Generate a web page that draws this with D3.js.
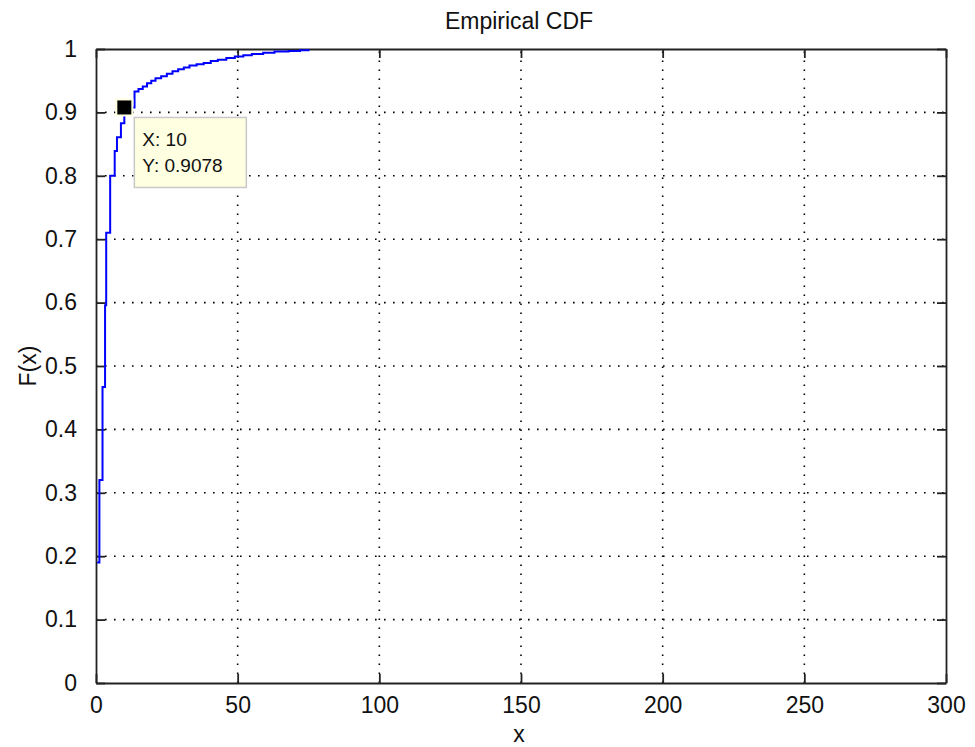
<!DOCTYPE html>
<html><head><meta charset="utf-8">
<script src="https://cdn.jsdelivr.net/npm/d3@7"></script>
<style>body{margin:0;background:#fff}svg{display:block}</style>
</head><body>
<script>
// ECDF step data (x value, F at that x)
const stepX = [0.4, 1.2, 2.3, 3.2, 3.6, 5.0, 6.6, 7.4, 8.8, 10, 13.6, 15, 16.5, 18, 19.5, 21, 23, 25, 27, 29, 31, 33, 35.5, 38, 40.5, 43, 46, 49, 52, 55, 59, 63, 68, 72, 75];
const stepF = [0.19, 0.32, 0.467, 0.596, 0.71, 0.80, 0.839, 0.861, 0.883, 0.9078, 0.933, 0.937, 0.941, 0.946, 0.950, 0.954, 0.957, 0.961, 0.965, 0.968, 0.971, 0.974, 0.976, 0.978, 0.981, 0.983, 0.986, 0.988, 0.990, 0.992, 0.994, 0.996, 0.997, 0.998, 1.0];
const xTicks = [0, 50, 100, 150, 200, 250, 300];
const yTicks = [0, 0.1, 0.2, 0.3, 0.4, 0.5, 0.6, 0.7, 0.8, 0.9, 1];
const tipX = [10];
const tipY = [0.9078];
const titleText = "Empirical CDF";
const xLabel = "x";
const yLabel = "F(x)";

const W = 975, H = 747;
const m = {left: 96, right: 29, top: 49, bottom: 64};
const svg = d3.select("body").append("svg").attr("width", W).attr("height", H);
const font = "'Liberation Sans', Arial, sans-serif";

const x = d3.scaleLinear().domain([0, 300]).range([m.left, W - m.right]);
const y = d3.scaleLinear().domain([0, 1]).range([H - m.bottom, m.top]);

// grid
const g = svg.append("g");
g.selectAll(".gx").data(xTicks.slice(1, -1)).join("line")
  .attr("x1", d => x(d)).attr("x2", d => x(d)).attr("y1", y(0)).attr("y2", y(1))
  .attr("stroke", "#000").attr("stroke-width", 1.6).attr("stroke-dasharray", "1.6,7.4");
g.selectAll(".gy").data(yTicks.slice(1, -1)).join("line")
  .attr("y1", d => y(d)).attr("y2", d => y(d)).attr("x1", x(0)).attr("x2", x(300))
  .attr("stroke", "#000").attr("stroke-width", 1.6).attr("stroke-dasharray", "1.6,7.4");

// axes with inside ticks
const tl = 9;
const fmtY = d => d3.format("~g")(d);
const axB = svg.append("g").attr("transform", `translate(0,${y(0)})`)
  .call(d3.axisBottom(x).tickValues(xTicks).tickSize(-tl).tickPadding(14).tickSizeOuter(0));
const axT = svg.append("g").attr("transform", `translate(0,${y(1)})`)
  .call(d3.axisTop(x).tickValues(xTicks).tickSize(-tl).tickFormat("").tickSizeOuter(0));
const axL = svg.append("g").attr("transform", `translate(${x(0)},0)`)
  .call(d3.axisLeft(y).tickValues(yTicks).tickSize(-tl).tickPadding(19).tickFormat(fmtY).tickSizeOuter(0));
const axR = svg.append("g").attr("transform", `translate(${x(300)},0)`)
  .call(d3.axisRight(y).tickValues(yTicks).tickSize(-tl).tickFormat("").tickSizeOuter(0));
[axB, axT, axL, axR].forEach(a => {
  a.select(".domain").attr("stroke", "#222").attr("stroke-width", 1.8);
  a.selectAll(".tick line").attr("stroke", "#222").attr("stroke-width", 1.8);
  a.selectAll("text").attr("fill", "#111").style("font-family", font).style("font-size", "23px");
});

// ECDF stairs
const pts = [];
stepX.forEach((v, i) => {
  if (i > 0) pts.push([v, stepF[i - 1]]);
  pts.push([v, stepF[i]]);
});
svg.append("path").datum(pts)
  .attr("d", d3.line().x(d => x(d[0])).y(d => y(d[1])))
  .attr("fill", "none").attr("stroke", "#0000ff").attr("stroke-width", 2);

// data tip
const tx = x(tipX[0]), ty = y(tipY[0]);
svg.append("rect").attr("x", tx - 8).attr("y", ty - 8).attr("width", 16).attr("height", 16)
  .attr("fill", "#000").attr("stroke", "#ffffe0").attr("stroke-width", 2);
const bx = tx + 10, by = ty + 10;
svg.append("rect").attr("x", bx).attr("y", by).attr("width", 112).attr("height", 70)
  .attr("fill", "#ffffe1").attr("stroke", "#c8c8c8").attr("stroke-width", 1.5);
svg.append("text").attr("x", bx + 8).attr("y", by + 29).text("X: " + tipX[0])
  .style("font-family", font).style("font-size", "19px").attr("fill", "#111");
svg.append("text").attr("x", bx + 8).attr("y", by + 55).text("Y: " + tipY[0])
  .style("font-family", font).style("font-size", "19px").attr("fill", "#111");

// title & labels
svg.append("text").attr("x", (x(0) + x(300)) / 2 - 2).attr("y", 29).attr("text-anchor", "middle")
  .text(titleText).style("font-family", font).style("font-size", "23px").attr("fill", "#111");
svg.append("text").attr("x", (x(0) + x(300)) / 2 - 2).attr("y", 742).attr("text-anchor", "middle")
  .text(xLabel).style("font-family", font).style("font-size", "23px").attr("fill", "#111");
svg.append("text").attr("transform", `translate(36,${(y(0) + y(1)) / 2}) rotate(-90)`).attr("text-anchor", "middle")
  .text(yLabel).style("font-family", font).style("font-size", "23px").attr("fill", "#111");
</script>
</body></html>
